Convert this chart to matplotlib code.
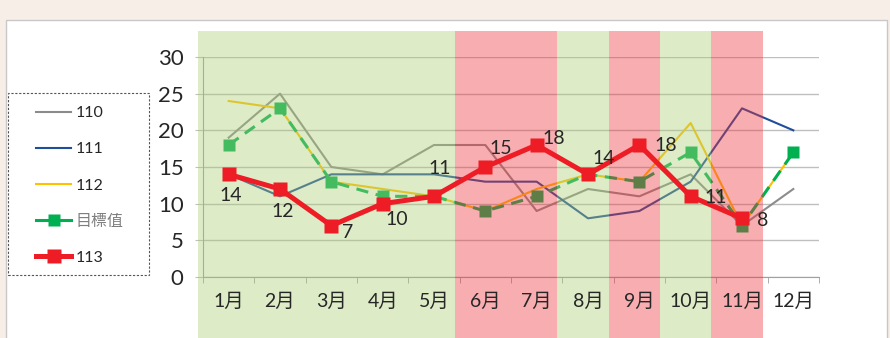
import matplotlib
matplotlib.use('Agg')
import numpy as np
import matplotlib.pyplot as plt
from matplotlib.lines import Line2D
from matplotlib.patches import Rectangle
from matplotlib.ticker import FixedLocator

plt.rcParams['font.family'] = ['Lato', 'Noto Sans CJK TC']

# monthly data
months = ['1月', '2月', '3月', '4月', '5月', '6月', '7月', '8月', '9月', '10月', '11月', '12月']
y110 = [19, 25, 15, 14, 18, 18, 9, 12, 11, 14, 7, 12]
y111 = [14, 11, 14, 14, 14, 13, 13, 8, 9, 13, 23, 20]
y112 = [24, 23, 13, 12, 11, 9, 12, 14, 13, 21, 7, 17]
target = [18, 23, 13, 11, 11, 9, 11, 14, 13, 17, 7, 17]
y113 = [14, 12, 7, 10, 11, 15, 18, 14, 18, 11, 8, np.nan]
# month status: g = on target, r = below target
status = ['g', 'g', 'g', 'g', 'g', 'r', 'r', 'g', 'r', 'g', 'r', '']

# label offsets (points) for the 113 values
label_off = [(1.4, -15), (2, -16.5), (12, -5), (10, -11.5), (4.3, 20), (11, 13),
             (12, 5), (11.5, 11.5), (18.7, -0.7), (18, -0.7), (15, -1.4)]

W, H = 890, 338


def rect(x0, y0, x1, y1):
    return [x0 / W, 1 - y1 / H, (x1 - x0) / W, (y1 - y0) / H]


fig = plt.figure(figsize=(W / 100, H / 100), dpi=100, facecolor='#F7EEE8')
fig.patches.append(Rectangle((6 / W, -0.02), (887 - 6) / W, (H - 20) / H + 0.02,
                             transform=fig.transFigure, facecolor='white',
                             edgecolor='#C8C8C8', lw=1, zorder=0))

x = np.arange(len(months))

# lines
ax = fig.add_axes(rect(203, 57, 819, 277), zorder=1)
ax.set_facecolor('none')
ax.plot(x, y110, color='#8C8C8C', lw=1.5)
ax.plot(x, y111, color='#1F4E9A', lw=1.5)
ax.plot(x, y112, color='#FFC000', lw=1.5)
ax.plot(x, target, color='#00B050', lw=2.2, ls=(0, (4, 2.5)),
        marker='s', ms=8.5, mec='none')
ax.set_xlim(-0.5, 11.5)
ax.set_ylim(0, 30)
ax.set_yticks(range(0, 31, 5))
ax.set_xticks(x, months)
ax.xaxis.set_minor_locator(FixedLocator(np.arange(-0.5, 12, 1)))
ax.grid(axis='y', color='#BFBFBF', lw=1)
ax.set_axisbelow(True)
for s in ['top', 'right']:
    ax.spines[s].set_visible(False)
for s in ['left', 'bottom']:
    ax.spines[s].set_color('#A0A0A0')
ax.tick_params(axis='y', length=5.8, color='#BFBFBF', labelleft=False)
ax.tick_params(axis='x', which='major', length=0, labelbottom=False)
ax.tick_params(axis='x', which='minor', length=4.3, color='#A0A0A0')

# translucent month bands over the lines
axb = fig.add_axes(rect(198, 31, 814, 338), zorder=2)
axb.set_xlim(-0.5, 11.5)
axb.set_ylim(0, 1)
axb.axis('off')
band_col = {'g': '#AACD75', 'r': '#EE323A'}
for i, s in enumerate(status):
    if s:
        axb.bar(i, 1, width=1, color=band_col[s], alpha=0.4, lw=0)

# top layer: 113 line, value labels and tick labels
axt = fig.add_axes(rect(203, 57, 819, 277), zorder=3, sharex=ax, sharey=ax)
axt.set_facecolor('none')
for s in axt.spines.values():
    s.set_visible(False)
axt.plot(x, y113, color='#EE1C24', lw=3.6, marker='s', ms=10.5, mec='none')
for i, v in enumerate(y113):
    if np.isnan(v):
        continue
    axt.annotate(f'{v:g}', (i, v), xytext=label_off[i], textcoords='offset points',
                 ha='center', va='center', fontsize=14, color='#262626')
axt.tick_params(axis='y', length=0, pad=14, labelsize=16, labelcolor='#262626')
axt.tick_params(axis='x', which='both', length=0, pad=11, labelsize=14,
                labelcolor='#262626')

# legend with dashed box
fig.patches.append(Rectangle((8 / W, 1 - 275 / H), 141 / W, 182 / H,
                             transform=fig.transFigure, facecolor='white',
                             edgecolor='#555555', lw=0.8, ls=(0, (2, 1.5)), zorder=4))
handles = [
    Line2D([], [], color='#8C8C8C', lw=1.5),
    Line2D([], [], color='#1F4E9A', lw=1.5),
    Line2D([], [], color='#FFC000', lw=1.5),
    Line2D([], [], color='#00B050', lw=2.2, marker='s', ms=8.5, mec='none'),
    Line2D([], [], color='#EE1C24', lw=3.6, marker='s', ms=10.5, mec='none'),
]
leg = fig.legend(handles, ['110', '111', '112', '目標值', '113'],
                 loc='center left', bbox_to_anchor=(36 / W, 1 - 185.5 / H),
                 frameon=False, fontsize=11.5, handlelength=2.2, handletextpad=0.3,
                 labelspacing=1.38, borderpad=0, borderaxespad=0)
leg.set_zorder(5)
for t in leg.get_texts():
    t.set_color('#262626')
leg.get_texts()[3].set_color('#7F7F7F')

fig.savefig('out.png', dpi=100, facecolor=fig.get_facecolor())
